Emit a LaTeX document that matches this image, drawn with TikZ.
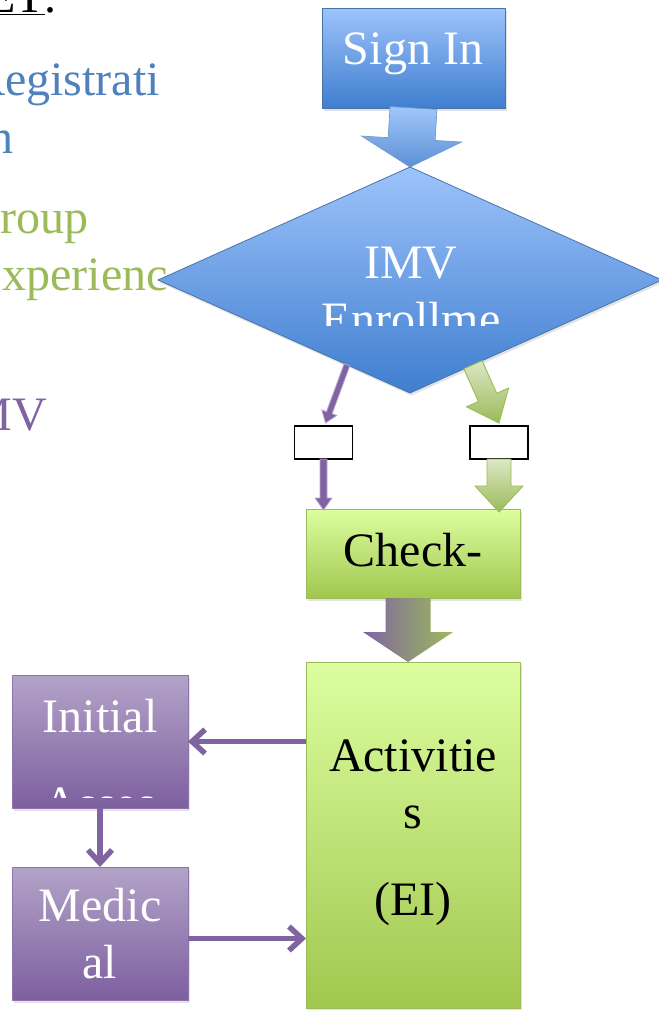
\documentclass[tikz,border=0pt]{standalone}
\usepackage{fontspec}
\setmainfont{Liberation Serif}
\usepackage{xcolor}
\usepackage{tikz}
\usetikzlibrary{shapes,arrows.meta,positioning,calc,shadows}

\definecolor{offblue}{HTML}{4F81BD}
\definecolor{offgreen}{HTML}{9BBB59}
\definecolor{offpurple}{HTML}{8064A2}
\definecolor{bluetop}{HTML}{9DC3FB}
\definecolor{bluebot}{HTML}{3F7ECF}
\definecolor{greentop}{HTML}{DCFE9F}
\definecolor{greenbot}{HTML}{A1C74F}
\definecolor{purptop}{HTML}{B3A3C8}
\definecolor{purpbot}{HTML}{7D5F9F}
\definecolor{purplight}{HTML}{B9A9D0}

% block arrow: style, from, to, shaft half width, head half width, head length
\newcommand{\blockarrow}[6]{%
  \coordinate (ba-h) at ($(#3)!#6!(#2)$);
  \path[#1] ($(#2)!#4!90:(#3)$) -- ($(ba-h)!#4!90:(#3)$) -- ($(ba-h)!#5!90:(#3)$) -- (#3)
    -- ($(ba-h)!#5!-90:(#3)$) -- ($(ba-h)!#4!-90:(#3)$) -- ($(#2)!#4!-90:(#3)$) -- cycle;
}

\tikzset{
  bigfont/.style={font=\fontsize{48}{57}\selectfont},
  boxshadow/.style={drop shadow={opacity=0.22, shadow xshift=1.5pt, shadow yshift=-2.5pt}},
  bluebox/.style={rectangle, draw=offblue!90!black, line width=0.8pt, top color=bluetop, bottom color=bluebot, inner sep=0pt, outer sep=0pt, boxshadow},
  greenbox/.style={rectangle, draw=offgreen, line width=1pt, top color=greentop, bottom color=greenbot, inner sep=0pt, outer sep=0pt, boxshadow},
  purplebox/.style={rectangle, draw=offpurple!90!white, line width=0.8pt, top color=purptop, bottom color=purpbot, inner sep=0pt, outer sep=0pt, boxshadow},
  answerbox/.style={rectangle, draw=black, line width=1.4pt, fill=white, inner sep=0pt, outer sep=0pt, minimum width=58pt, minimum height=33pt},
  whitetxt/.style={bigfont, text=white, align=center, anchor=base, inner sep=0pt},
  blacktxt/.style={bigfont, text=black, align=center, anchor=base, inner sep=0pt},
  bluearrow/.style={draw=offblue!80, line width=0.7pt, top color=bluetop!95!white, bottom color=bluebot!85!white},
  greenarrow/.style={draw=offgreen, line width=0.9pt, top color=offgreen!35!white, bottom color=offgreen},
  thinarrow/.style={draw=purplight, line width=0.8pt, fill=offpurple},
  mixarrow/.style={left color=offpurple, right color=offgreen},
  purpline/.style={draw=offpurple, line width=5.5pt, -{Straight Barb[length=13pt, width=24pt]}}
}

\begin{document}
\begin{tikzpicture}[x=1pt, y=-1pt]
\clip (0,0) rectangle (659,1010);
\fill[white] (0,0) rectangle (659,1010);

% legend on the left, cut by the page edge
\node[bigfont, anchor=base east, inner sep=0pt] (keytxt) at (57,12) {\underline{SHEET}.};
\node[bigfont, anchor=base east, inner sep=0pt, text=offblue] (regtxt) at (160,95) {Registrati};
\node[bigfont, anchor=base east, inner sep=0pt, text=offblue] (regtxtb) at (14,153) {on};
\node[bigfont, anchor=base east, inner sep=0pt, text=offgreen] (grptxt) at (89,233) {Group};
\node[bigfont, anchor=base east, inner sep=0pt, text=offgreen] (grptxtb) at (168,290) {Experienc};
\node[bigfont, anchor=base east, inner sep=0pt, text=offpurple] (imvkey) at (47,430) {IMV};

% boxes
\node[bluebox, minimum width=183pt, minimum height=100pt] (signin) at (413.5,58) {};
\node[diamond, draw=offblue!90!black, line width=0.8pt, top color=bluetop, bottom color=bluebot,
      inner sep=0pt, outer sep=0pt, minimum width=504pt, minimum height=226pt, boxshadow] (imv) at (410,280) {};
\node[answerbox] (nobox) at (323.5,442.5) {};
\node[answerbox] (yesbox) at (499,442.5) {};
\node[greenbox, minimum width=214pt, minimum height=89pt] (check) at (413,553.5) {};
\node[greenbox, minimum width=214pt, minimum height=346pt] (activities) at (413,835) {};
\node[purplebox, minimum width=176pt, minimum height=133pt] (initial) at (100,741.5) {};
\node[purplebox, minimum width=176pt, minimum height=133pt] (medical) at (100,933.5) {};

% box texts (anchored at the last line)
\node[whitetxt] (signintxt) at (413,64) {Sign In};
\begin{scope}
  \clip (250,200) rectangle (580,325);
  \node[whitetxt] (imvtxt) at (411,335) {IMV\\Enrollme};
\end{scope}
\node[blacktxt] (checktxt) at (413,566) {Check-};
\node[blacktxt] (acttxt) at (413,915) {Activitie\\s\\[30pt](EI)};
\begin{scope}
  \clip (12,680) rectangle (188,797);
  \node[whitetxt, font=\fontsize{48}{87}\selectfont] (inittxt) at (100,819) {Initial\\Asses};
\end{scope}
\node[whitetxt] (medtxt) at (100,978) {Medic\\al};

% block arrows
\blockarrow{bluearrow}{signin.south}{imv.north}{23.5pt}{50pt}{28pt}
\blockarrow{greenarrow}{$(imv.south)!0.25!(imv.east)$}{$(yesbox.north)+(0,-3)$}{10pt}{23pt}{28pt}
\blockarrow{greenarrow}{yesbox.south}{$(yesbox.south |- check.north)+(0,3)$}{12pt}{24pt}{26pt}
\blockarrow{thinarrow}{$(imv.west)!0.75!(imv.south)$}{$(nobox.north)+(2,-3)$}{3pt}{8pt}{11pt}
\blockarrow{thinarrow}{nobox.south}{$(nobox.south |- check.north)+(0,1)$}{3.5pt}{8.5pt}{12pt}
\blockarrow{mixarrow}{$(check.south)+(-5,0)$}{$(activities.north)+(-5,0)$}{22.5pt}{45pt}{30pt}

% line arrows
\draw[purpline] (activities.west |- initial) -- (initial.east);
\draw[purpline] (initial.south) -- (medical.north);
\draw[purpline] ($(medical.east)+(0,5)$) -- ($(activities.west |- medical)+(0,5)$);
\end{tikzpicture}
\end{document}
